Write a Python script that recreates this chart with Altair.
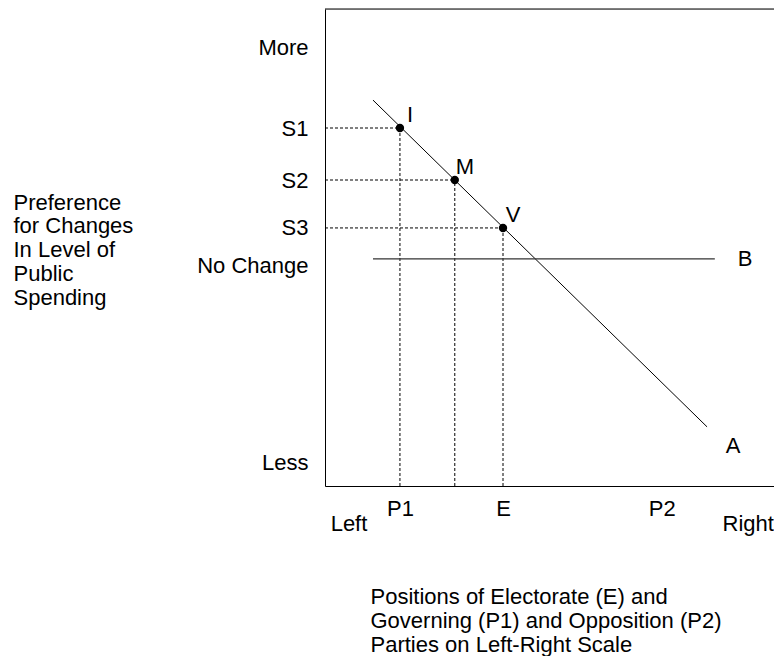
import altair as alt
import pandas as pd

FONT = "Liberation Sans"
FS = 22

# Points on the preference line A
pt_names = ["I", "M", "V"]
pt_x = [16.4, 28.4, 38.95]
pt_y = [75.05, 64.15, 54.1]

# Line A (declining preference) and line B (no change)
lineA_x = [10.5, 83.6]
lineA_y = [80.9, 12.4]
lineB_x = [10.5, 85.3]
lineB_y = [47.6, 47.6]

# Line-end labels
end_names = ["B", "A"]
end_x = [91.9, 89.3]
end_y = [47.6, 8.4]

# Axis tick labels
y_labels = ["More", "S1", "S2", "S3", "No Change", "Less"]
y_values = [92.0, 75.05, 64.15, 54.1, 46.3, 5.0]
x_labels = ["P1", "E", "P2"]
x_values = [16.4, 38.95, 73.7]

# Scale end labels
scale_names = ["Left", "Right"]
scale_x = [5.25, 92.6]
scale_y = [-8.0, -8.0]

y_title = ["Preference", "for Changes", "In Level of", "Public", "Spending"]
x_title = ["Positions of Electorate (E) and",
           "Governing (P1) and Opposition (P2)",
           "Parties on Left-Right Scale"]

X_MAX = 98.25  # visible part of the left-right scale
Y_MAX = 100


def label_expr(values, labels):
    expr = "''"
    for v, l in reversed(list(zip(values, labels))):
        expr = f"datum.value == {v} ? '{l}' : ({expr})"
    return expr


xs = alt.Scale(domain=[0, X_MAX], nice=False, zero=False)
ys = alt.Scale(domain=[0, Y_MAX], nice=False, zero=False)

x_axis = alt.Axis(values=x_values, labelExpr=label_expr(x_values, x_labels),
                  ticks=False, grid=False, domainColor="black", domainWidth=1,
                  labelFont=FONT, labelFontSize=FS, labelColor="black",
                  labelPadding=12, labelAngle=0,
                  title=x_title, titleFont=FONT, titleFontSize=FS,
                  titleFontWeight="normal", titleColor="black",
                  titleAngle=0, titleAlign="left", titleBaseline="top",
                  titleAnchor="start", titleX=45, titleY=100,
                  titleLineHeight=24)
y_axis = alt.Axis(values=y_values, labelExpr=label_expr(y_values, y_labels),
                  ticks=False, grid=False, domainColor="black", domainWidth=1,
                  labelFont=FONT, labelFontSize=FS, labelColor="black",
                  labelPadding=17,
                  title=y_title, titleFont=FONT, titleFontSize=FS,
                  titleFontWeight="normal", titleColor="black",
                  titleAngle=0, titleAlign="left", titleBaseline="top",
                  titleAnchor="start", titleX=-312, titleY=183,
                  titleLineHeight=23.75)


def X(f):
    return alt.X(f, type="quantitative", scale=xs, axis=x_axis)


def Y(f):
    return alt.Y(f, type="quantitative", scale=ys, axis=y_axis)


pts = pd.DataFrame({"name": pt_names, "x": pt_x, "y": pt_y,
                    "zero": [0] * len(pt_x)})

guides_h = alt.Chart(pts).mark_rule(color="black", strokeWidth=1,
                                    strokeDash=[3, 2]).encode(
    x=X("zero"), x2="x", y=Y("y"))
guides_v = alt.Chart(pts).mark_rule(color="black", strokeWidth=1,
                                    strokeDash=[3, 2]).encode(
    x=X("x"), y=Y("zero"), y2="y")

lineA = alt.Chart(pd.DataFrame({"x": lineA_x, "y": lineA_y})).mark_line(
    color="black", strokeWidth=1).encode(x=X("x"), y=Y("y"))
lineB = alt.Chart(pd.DataFrame({"x": lineB_x, "y": lineB_y})).mark_line(
    color="#333333", strokeWidth=1.2).encode(x=X("x"), y=Y("y"))

dots = alt.Chart(pts).mark_circle(color="black", opacity=1, size=70).encode(
    x=X("x"), y=Y("y"))
dot_labels = alt.Chart(pts).mark_text(font=FONT, fontSize=FS, color="black",
                                      dx=10, dy=-13).encode(
    x=X("x"), y=Y("y"), text="name")

ends = alt.Chart(pd.DataFrame({"name": end_names, "x": end_x, "y": end_y})
                 ).mark_text(font=FONT, fontSize=FS, color="black").encode(
    x=X("x"), y=Y("y"), text="name")

scale_ends = alt.Chart(pd.DataFrame({"name": scale_names, "x": scale_x,
                                     "y": scale_y})
                       ).mark_text(font=FONT, fontSize=FS, color="black").encode(
    x=X("x"), y=Y("y"), text="name")

top_border = alt.Chart(pd.DataFrame({"x": [0], "x2": [X_MAX], "y": [Y_MAX]})
                       ).mark_rule(color="black", strokeWidth=1).encode(
    x=X("x"), x2="x2", y=Y("y"))

chart = alt.layer(guides_h, guides_v, lineA, lineB, dots, dot_labels, ends,
                  scale_ends, top_border).properties(
    width=449, height=477,
    autosize=alt.AutoSizeParams(type="none"),
    padding={"left": 317, "top": 1, "right": 0, "bottom": 170},
).configure_view(stroke=None).configure(background="white")

chart.save("out.html", embed_options={"renderer": "svg", "actions": False})
